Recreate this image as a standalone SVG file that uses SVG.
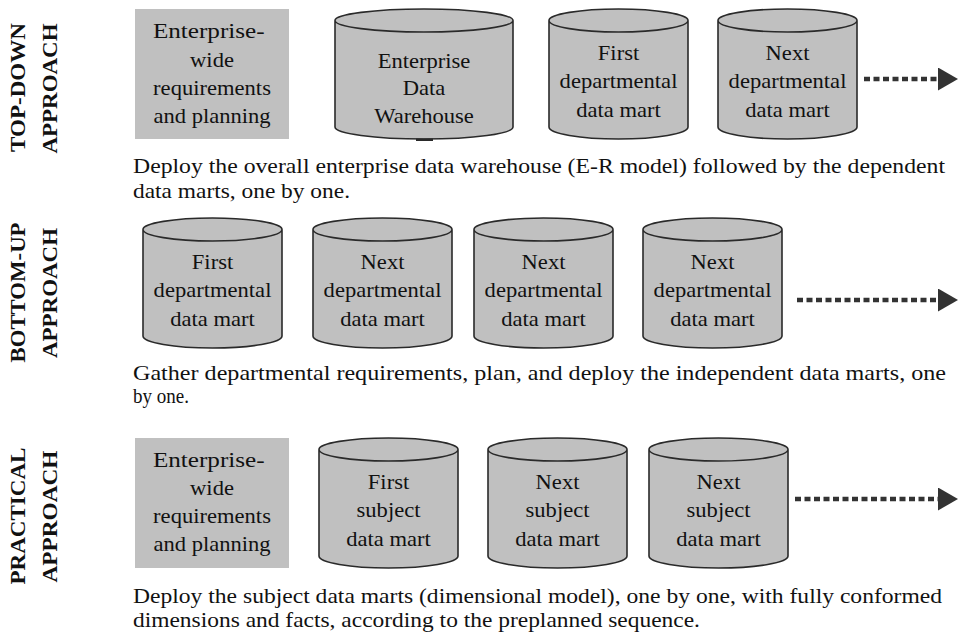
<svg xmlns="http://www.w3.org/2000/svg" xmlns:xlink="http://www.w3.org/1999/xlink" width="959" height="635" viewBox="0 0 959 635">
<style>
  .bg { fill: #ffffff; }
  .box { fill: #c0c0c0; stroke: none; }
  .cyl { fill: #c0c0c0; stroke: #2a2a2a; stroke-width: 1.6; }
  .lbl { font-family: "Times New Roman", "Liberation Serif", Tinos, Times, serif; font-size: 21px; fill: #111; text-anchor: middle; }
  .desc { font-family: "Times New Roman", "Liberation Serif", Tinos, Times, serif; font-size: 21px; fill: #111; }
  .side { font-family: "Times New Roman", "Liberation Serif", Tinos, Times, serif; font-size: 20px; font-weight: bold; fill: #111; text-anchor: middle; }
  .dots { stroke: #333; stroke-width: 4.5; stroke-dasharray: 6 3.5; fill: none; }
</style>
<defs>
  <path id="cyl139" class="cyl" d="M0,11.5 L0,118 A69.5,12 0 0 0 139,118 L139,11.5 A69.5,11.5 0 0 0 0,11.5 Z M0,11.5 A69.5,11.5 0 0 0 139,11.5"/>
  <marker id="head" markerUnits="userSpaceOnUse" markerWidth="22" markerHeight="24" refX="0" refY="11.5" orient="auto">
    <path d="M0,0 L20,11.5 L0,23 Z" fill="#333"/>
  </marker>
</defs>
<rect class="bg" x="0" y="0" width="959" height="635"/>

<!-- side labels -->
<g id="label-topdown">
  <text class="side" transform="translate(25,87.5) rotate(-90)" textLength="129" lengthAdjust="spacingAndGlyphs">TOP-DOWN</text>
  <text class="side" transform="translate(57,88.5) rotate(-90)" textLength="130" lengthAdjust="spacingAndGlyphs">APPROACH</text>
</g>
<g id="label-bottomup">
  <text class="side" transform="translate(25,292.5) rotate(-90)" textLength="140" lengthAdjust="spacingAndGlyphs">BOTTOM-UP</text>
  <text class="side" transform="translate(57,293) rotate(-90)" textLength="130" lengthAdjust="spacingAndGlyphs">APPROACH</text>
</g>
<g id="label-practical">
  <text class="side" transform="translate(25,516) rotate(-90)" textLength="137" lengthAdjust="spacingAndGlyphs">PRACTICAL</text>
  <text class="side" transform="translate(57,516.5) rotate(-90)" textLength="132" lengthAdjust="spacingAndGlyphs">APPROACH</text>
</g>

<!-- TOP-DOWN row -->
<g id="td-planning">
  <rect class="box" x="135" y="9" width="154" height="130"/>
  <text class="lbl" transform="translate(212,0) scale(1.075,1)"><tspan x="-3" y="38" textLength="104" lengthAdjust="spacingAndGlyphs">Enterprise-</tspan><tspan x="0" y="67">wide</tspan><tspan x="0" y="95.5">requirements</tspan><tspan x="0" y="123.5">and planning</tspan></text>
</g>
<g id="td-edw">
  <path class="cyl" d="M335,20.5 L335,127 A89,12 0 0 0 513,127 L513,20.5 A89,11.5 0 0 0 335,20.5 Z M335,20.5 A89,11.5 0 0 0 513,20.5"/>
  <rect x="416" y="138.5" width="17" height="2.5" fill="#2a2a2a"/>
  <text class="lbl" transform="translate(424,0) scale(1.075,1)"><tspan x="0" y="68">Enterprise</tspan><tspan x="0" y="95.5">Data</tspan><tspan x="0" y="123">Warehouse</tspan></text>
</g>
<g id="td-first">
  <use xlink:href="#cyl139" x="549" y="9"/>
  <text class="lbl" transform="translate(618.5,0) scale(1.075,1)"><tspan x="0" y="60">First</tspan><tspan x="0" y="88.5">departmental</tspan><tspan x="0" y="117">data mart</tspan></text>
</g>
<g id="td-next">
  <use xlink:href="#cyl139" x="718" y="9"/>
  <text class="lbl" transform="translate(787.5,0) scale(1.075,1)"><tspan x="0" y="60">Next</tspan><tspan x="0" y="88.5">departmental</tspan><tspan x="0" y="117">data mart</tspan></text>
</g>
<g id="td-desc">
  <text class="desc" x="133" y="173" textLength="812" lengthAdjust="spacingAndGlyphs">Deploy the overall enterprise data warehouse (E-R model) followed by the dependent</text>
  <text class="desc" x="133" y="198" textLength="217" lengthAdjust="spacingAndGlyphs">data marts, one by one.</text>
</g>

<!-- BOTTOM-UP row -->
<g id="bu-first">
  <use xlink:href="#cyl139" x="143" y="218"/>
  <text class="lbl" transform="translate(212.5,0) scale(1.075,1)"><tspan x="0" y="269">First</tspan><tspan x="0" y="297.5">departmental</tspan><tspan x="0" y="326">data mart</tspan></text>
</g>
<g id="bu-next1">
  <use xlink:href="#cyl139" x="313" y="218"/>
  <text class="lbl" transform="translate(382.5,0) scale(1.075,1)"><tspan x="0" y="269">Next</tspan><tspan x="0" y="297.5">departmental</tspan><tspan x="0" y="326">data mart</tspan></text>
</g>
<g id="bu-next2">
  <use xlink:href="#cyl139" x="474" y="218"/>
  <text class="lbl" transform="translate(543.5,0) scale(1.075,1)"><tspan x="0" y="269">Next</tspan><tspan x="0" y="297.5">departmental</tspan><tspan x="0" y="326">data mart</tspan></text>
</g>
<g id="bu-next3">
  <use xlink:href="#cyl139" x="643" y="218"/>
  <text class="lbl" transform="translate(712.5,0) scale(1.075,1)"><tspan x="0" y="269">Next</tspan><tspan x="0" y="297.5">departmental</tspan><tspan x="0" y="326">data mart</tspan></text>
</g>
<g id="bu-desc">
  <text class="desc" x="133" y="380" textLength="813" lengthAdjust="spacingAndGlyphs">Gather departmental requirements, plan, and deploy the independent data marts, one</text>
  <text class="desc" x="133" y="403" textLength="56" lengthAdjust="spacingAndGlyphs">by one.</text>
</g>

<!-- PRACTICAL row -->
<g id="pr-planning">
  <rect class="box" x="135" y="438" width="154" height="130"/>
  <text class="lbl" transform="translate(212,0) scale(1.075,1)"><tspan x="-3" y="467" textLength="104" lengthAdjust="spacingAndGlyphs">Enterprise-</tspan><tspan x="0" y="495.5">wide</tspan><tspan x="0" y="523">requirements</tspan><tspan x="0" y="551">and planning</tspan></text>
</g>
<g id="pr-first">
  <use xlink:href="#cyl139" x="319" y="438"/>
  <text class="lbl" transform="translate(388.5,0) scale(1.075,1)"><tspan x="0" y="489">First</tspan><tspan x="0" y="517.5">subject</tspan><tspan x="0" y="546">data mart</tspan></text>
</g>
<g id="pr-next1">
  <use xlink:href="#cyl139" x="488" y="438"/>
  <text class="lbl" transform="translate(557.5,0) scale(1.075,1)"><tspan x="0" y="489">Next</tspan><tspan x="0" y="517.5">subject</tspan><tspan x="0" y="546">data mart</tspan></text>
</g>
<g id="pr-next2">
  <use xlink:href="#cyl139" x="649" y="438"/>
  <text class="lbl" transform="translate(718.5,0) scale(1.075,1)"><tspan x="0" y="489">Next</tspan><tspan x="0" y="517.5">subject</tspan><tspan x="0" y="546">data mart</tspan></text>
</g>
<g id="pr-desc">
  <text class="desc" x="133" y="603" textLength="809" lengthAdjust="spacingAndGlyphs">Deploy the subject data marts (dimensional model), one by one, with fully conformed</text>
  <text class="desc" x="133" y="627" textLength="567" lengthAdjust="spacingAndGlyphs">dimensions and facts, according to the preplanned sequence.</text>
</g>

<!-- connectors -->
<g id="connectors">
  <line class="dots" x1="864" y1="79" x2="938" y2="79" marker-end="url(#head)"/>
  <line class="dots" x1="797" y1="300" x2="938" y2="300" marker-end="url(#head)"/>
  <line class="dots" x1="795" y1="499" x2="938" y2="499" marker-end="url(#head)"/>
</g>
</svg>
